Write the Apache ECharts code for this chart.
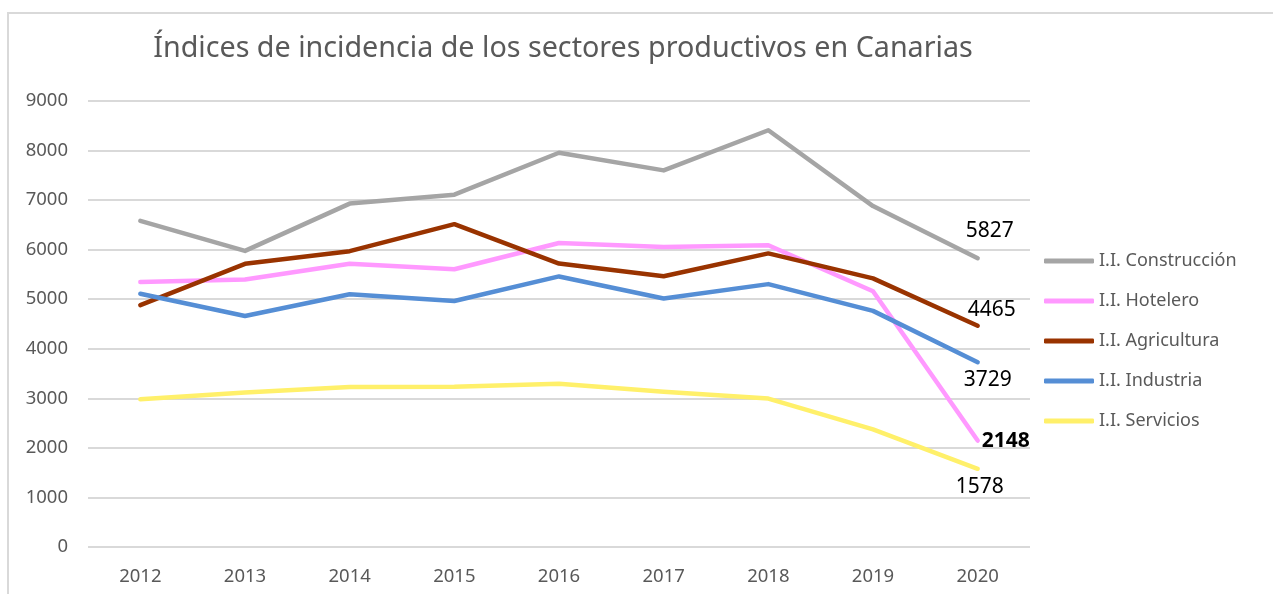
<!DOCTYPE html>
<html>
<head>
<meta charset="utf-8">
<script src="https://cdn.jsdelivr.net/npm/echarts@6/dist/echarts.min.js"></script>
<style>html,body{margin:0;padding:0;background:#fff;}#c{width:1273px;height:594px;}</style>
</head>
<body>
<div id="c"></div>
<script>
const years = ['2012','2013','2014','2015','2016','2017','2018','2019','2020'];
const seriesNames = ['I.I. Construcción','I.I. Hotelero','I.I. Agricultura','I.I. Industria','I.I. Servicios'];
const construccion = [6580, 5975, 6930, 7110, 7955, 7600, 8410, 6880, 5827];
const hotelero     = [5350, 5400, 5715, 5605, 6135, 6055, 6090, 5160, 2148];
const agricultura  = [4880, 5715, 5970, 6515, 5720, 5465, 5925, 5420, 4465];
const industria    = [5110, 4660, 5100, 4965, 5460, 5015, 5305, 4765, 3729];
const servicios    = [2980, 3120, 3230, 3235, 3295, 3135, 2995, 2375, 1578];
const colors = ['#A5A5A5','#FF99FF','#993300','#558ED5','#FFF06A'];

const allData = [construccion, hotelero, agricultura, industria, servicios];
const labelOffsets = [[12,-27],[28,0],[14,-16],[10,18],[2,18]];
const labelBold = [false,true,false,false,false];

const FONT = '"Noto Sans", "Open Sans", sans-serif';

const series = allData.map((arr, i) => ({
  name: seriesNames[i],
  type: 'line',
  symbol: 'circle',
  symbolSize: 1,
  smooth: false,
  lineStyle: { width: 4.5, color: colors[i], cap: 'round', join: 'round' },
  itemStyle: { color: colors[i] },
  emphasis: { disabled: true },
  data: arr.map((v, j) => j === arr.length - 1 ? {
    value: v,
    label: {
      show: true,
      position: 'inside',
      offset: labelOffsets[i],
      formatter: '{c}',
      color: '#000',
      fontFamily: FONT,
      fontSize: 21,
      fontWeight: labelBold[i] ? 'bold' : 'normal'
    }
  } : v)
}));

const chart = echarts.init(document.getElementById('c'), null, { renderer: 'canvas' });
chart.setOption({
  animation: false,
  backgroundColor: '#fff',
  color: colors,
  graphic: [{
    type: 'rect',
    shape: { x: 8, y: 13, width: 1400, height: 800 },
    style: { fill: 'none', stroke: '#d9d9d9', lineWidth: 2 },
    silent: true, z: -10
  }],
  title: {
    text: 'Índices de incidencia de los sectores productivos en Canarias',
    left: 558,
    top: 29,
    textAlign: 'center',
    textStyle: { fontFamily: FONT, fontSize: 28.7, fontWeight: 'normal', color: '#595959' }
  },
  legend: {
    orient: 'vertical',
    left: 1044,
    top: 251,
    padding: 0,
    itemWidth: 50,
    itemHeight: 5,
    itemGap: 20,
    icon: 'roundRect',
    data: seriesNames,
    textStyle: { fontFamily: FONT, fontSize: 18, color: '#595959', lineHeight: 20 }
  },
  grid: { left: 88, right: 243, top: 101, bottom: 47, containLabel: false },
  xAxis: {
    type: 'category',
    data: years,
    boundaryGap: true,
    axisLine: { show: false },
    axisTick: { show: false },
    axisLabel: { fontFamily: FONT, fontSize: 18.5, color: '#595959', margin: 20 }
  },
  yAxis: {
    type: 'value',
    min: 0, max: 9000, interval: 1000,
    axisLine: { show: false },
    axisTick: { show: false },
    splitLine: { lineStyle: { color: '#d9d9d9', width: 2 } },
    axisLabel: { fontFamily: FONT, fontSize: 18.5, color: '#595959', margin: 20, formatter: v => String(v) }
  },
  series: series
});
</script>
</body>
</html>
